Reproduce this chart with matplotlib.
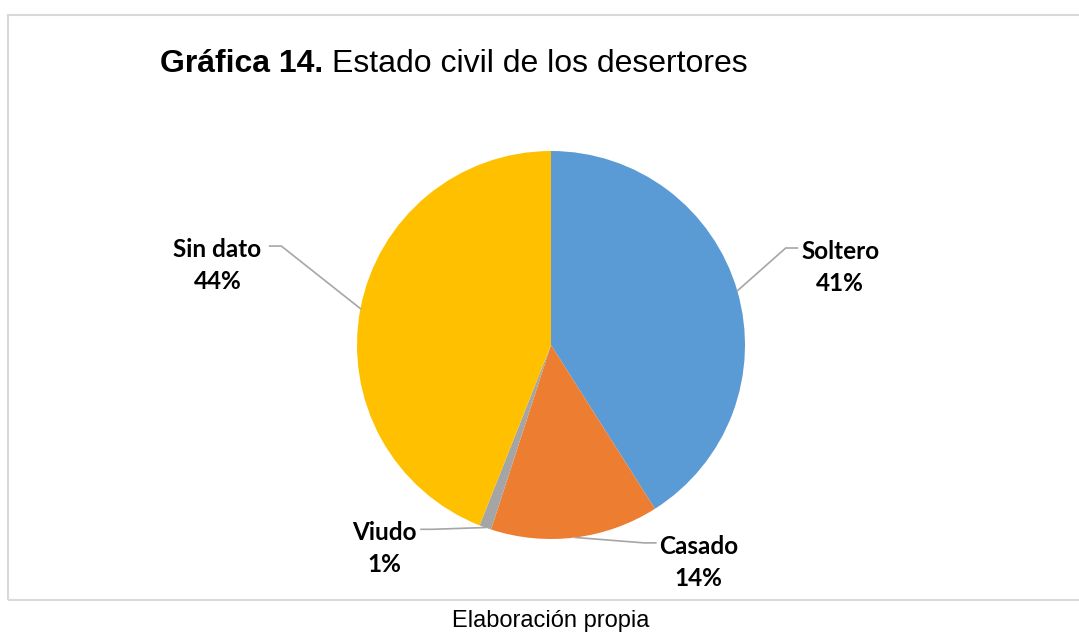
import numpy as np
import matplotlib.pyplot as plt
from matplotlib.patches import Rectangle

# Datos
categorias = ['Soltero', 'Casado', 'Viudo', 'Sin dato']
porcentajes = [41, 14, 1, 44]
colores = ['#5B9BD5', '#ED7D31', '#A5A5A5', '#FFC000']
# posicion de cada etiqueta (en radios del pastel)
pos_etiquetas = [(1.49, 0.40), (0.76, -1.12), (-0.86, -1.05), (-1.72, 0.41)]
# largo del tramo horizontal de la guia
tramo = [0.22, 0.22, 0.19, 0.27]

fig = plt.figure(figsize=(10.79, 6.33), dpi=100)

# Marco del grafico
fig.patches.append(Rectangle((8 / 1079, 1 - 600 / 633), 1.2, (600 - 15) / 633,
                             transform=fig.transFigure, fill=False,
                             edgecolor='#D9D9D9', linewidth=1.5))

# Pastel centrado en (551, 345) px, radio 194 px
r = 194
ax = fig.add_axes([(551 - 2 * r) / 1079, 1 - (345 + 2 * r) / 633,
                   4 * r / 1079, 4 * r / 633])

wedges, _ = ax.pie(porcentajes, colors=colores, startangle=90, counterclock=False,
                   wedgeprops=dict(linewidth=0))
ax.set_xlim(-2, 2)
ax.set_ylim(-2, 2)
ax.axis('off')

# Etiquetas con lineas guia
for w, cat, p, (tx, ty), h in zip(wedges, categorias, porcentajes, pos_etiquetas, tramo):
    medio = np.deg2rad((w.theta1 + w.theta2) / 2)
    x0, y0 = np.cos(medio), np.sin(medio)
    lado = 1 if tx > x0 else -1
    # codo de la linea al nivel de la primera linea de texto
    yc = ty + 0.10
    xe = tx - lado * h
    xc = xe - lado * 0.06
    ax.plot([x0, xc, xe], [y0, yc, yc], color='#A6A6A6', lw=1.2, clip_on=False)
    ax.text(tx, ty, f'{cat}\n{p}%', ha='center', va='center', fontsize=17.5,
            fontweight='bold', family='Lato', linespacing=1.5)

# Titulo
t1 = fig.text(160 / 1079, 1 - 72 / 633, 'Gráfica 14.', fontsize=23, fontweight='bold',
              family='Liberation Sans', ha='left', va='baseline')
fig.canvas.draw()
bb = t1.get_window_extent()
fig.text(bb.x1 / 1079 + 9 / 1079, 1 - 72 / 633, 'Estado civil de los desertores', fontsize=23,
         family='Liberation Sans', ha='left', va='baseline')

# Fuente
fig.text(551 / 1079, 1 - 621 / 633, 'Elaboración propia', fontsize=17,
         family='Liberation Sans', ha='center', va='center')

fig.savefig('out.png', dpi=100)
